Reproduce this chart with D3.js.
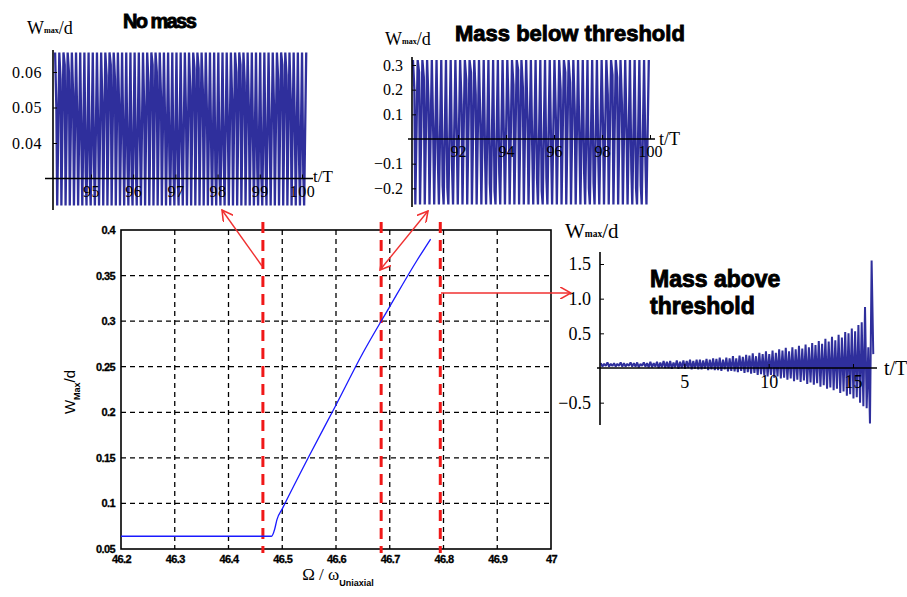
<!DOCTYPE html>
<html><head><meta charset="utf-8">
<script src="https://cdn.jsdelivr.net/npm/d3@7"></script>
<style>body{margin:0;background:#fff}svg{display:block}</style>
</head><body>
<svg id="c" width="907" height="597"></svg>
<script>
// ---------- DATA ----------
// main chart
const mainXTicks = [46.2,46.3,46.4,46.5,46.6,46.7,46.8,46.9,47];
const mainXTickLabels = ["46.2","46.3","46.4","46.5","46.6","46.7","46.8","46.9","47"];
const mainYTicks = [0.05,0.1,0.15,0.2,0.25,0.3,0.35,0.4];
const mainYTickLabels = ["0.05","0.1","0.15","0.2","0.25","0.3","0.35","0.4"];
const freqRatio = [46.2,46.48,46.486,46.49,46.5,46.55,46.6,46.65,46.7,46.75,46.776];
const wMax      = [0.064,0.064,0.072,0.082,0.094,0.152,0.208,0.265,0.316,0.366,0.39];
const markerFreqs = [46.464,46.684,46.794];

// inset 1: no mass
const noMassXTicks = [95,96,97,98,99,100];
const noMassYTicks = [0.04,0.05,0.06];
const noMassYTickLabels = ["0.04","0.05","0.06"];
const noMassRange = [94.15,100.1];
const noMassMax = 0.0655, noMassMin = 0.0224;
const noMassShoulder = [0.050,0.058,0.062,0.060,0.054,0.046,0.038,0.032,0.030,0.034,
 0.042,0.051,0.059,0.062,0.058,0.050,0.041,0.034,0.030,0.033,
 0.040,0.049,0.057,0.062,0.060,0.053,0.044,0.036,0.031,0.031,
 0.037,0.046,0.055,0.061,0.061,0.055,0.047,0.038,0.032,0.030,
 0.035,0.043,0.052,0.060,0.062,0.057,0.049,0.040,0.033,0.030,
 0.034,0.041,0.050,0.058,0.062,0.059,0.052,0.043,0.035,0.031];

// inset 2: mass below threshold
const belowXTicks = [92,94,96,98,100];
const belowYTicks = [-0.2,-0.1,0.1,0.2,0.3];
const belowYTickLabels = ["\u22120.2","\u22120.1","0.1","0.2","0.3"];
const belowRange = [90.12,99.95];
const belowMax = 0.32, belowMin = -0.265;
const belowShoulder = [0.2,0.27,0.25,0.15,0.02,-0.1,-0.19,-0.2,-0.12,0.0,
 0.14,0.24,0.27,0.18,0.05,-0.08,-0.18,-0.21,-0.14,-0.02,
 0.11,0.22,0.28,0.21,0.08,-0.05,-0.16,-0.21,-0.16,-0.05,
 0.08,0.2,0.27,0.23,0.11,-0.02,-0.14,-0.2,-0.18,-0.08,
 0.05,0.18,0.26,0.25,0.14,0.01,-0.12,-0.2,-0.19,-0.1];

// inset 3: mass above threshold
const aboveXTicks = [5,10,15];
const aboveYTicks = [-0.5,0.5,1.0,1.5];
const aboveYTickLabels = ["\u22120.5","0.5","1.0","1.5"];
const aboveTops = [0.07,0.06,0.08,0.06,0.07, 0.06,0.08,0.07,0.06,0.08, 0.07,0.08,0.06,0.08,0.07,
 0.09,0.07,0.09,0.08,0.1, 0.09,0.1,0.08,0.11,0.09, 0.11,0.1,0.12,0.1,0.12,
 0.12,0.11,0.13,0.12,0.14, 0.13,0.15,0.12,0.15,0.14, 0.17,0.14,0.18,0.16,0.19,
 0.18,0.21,0.17,0.22,0.2, 0.24,0.2,0.25,0.22,0.27, 0.25,0.29,0.24,0.3,0.27,
 0.32,0.28,0.34,0.3,0.36, 0.33,0.39,0.35,0.42,0.38, 0.45,0.4,0.48,0.44,0.52,
 0.5,0.57,0.53,0.62,0.66, 0.88,0.3,1.55];
const aboveBottoms = [0.02,0.03,0.02,0.03,0.02, 0.03,0.02,0.02,0.03,0.02, 0.02,0.01,0.03,0.02,0.01,
 0.01,0.02,0.0,0.01,0.0, 0.0,-0.01,0.01,-0.01,0.0, -0.01,0.0,-0.02,-0.01,-0.02,
 -0.02,-0.01,-0.03,-0.02,-0.03, -0.03,-0.04,-0.02,-0.05,-0.04, -0.05,-0.06,-0.04,-0.07,-0.06,
 -0.08,-0.07,-0.1,-0.09,-0.11, -0.12,-0.1,-0.14,-0.12,-0.15, -0.14,-0.17,-0.15,-0.19,-0.17,
 -0.2,-0.18,-0.23,-0.21,-0.24, -0.22,-0.27,-0.25,-0.3,-0.28, -0.32,-0.3,-0.36,-0.34,-0.4,
 -0.38,-0.44,-0.42,-0.5,-0.55, -0.58,-0.8,0.2];
const aboveRange = [0.05,16.3];

// ---------- DRAW ----------
const svg = d3.select("#c");
svg.append("rect").attr("width",907).attr("height",597).attr("fill","#fff");
const BLUE = "#2f2f9c";
const serif = "'Liberation Serif','Times New Roman',serif";
const sans = "'Liberation Sans',Arial,sans-serif";

// ---- main chart ----
const x = d3.scaleLinear().domain([46.2,47]).range([121,551]);
const y = d3.scaleLinear().domain([0.05,0.4]).range([549,230]);
const g = svg.append("g");
g.selectAll(".gx").data(mainXTicks.slice(1,-1)).join("line")
  .attr("x1",d=>x(d)).attr("x2",d=>x(d)).attr("y1",y(0.4)).attr("y2",y(0.05))
  .attr("stroke","#000").attr("stroke-width",1.3).attr("stroke-dasharray","5,4");
g.selectAll(".gy").data(mainYTicks.slice(1,-1)).join("line")
  .attr("y1",d=>y(d)).attr("y2",d=>y(d)).attr("x1",x(46.2)).attr("x2",x(47))
  .attr("stroke","#000").attr("stroke-width",1.3).attr("stroke-dasharray","5,4");
const xAx = g.append("g").attr("transform",`translate(0,${y(0.05)})`)
  .call(d3.axisBottom(x).tickValues(mainXTicks).tickFormat((d,i)=>mainXTickLabels[i]).tickSize(0).tickPadding(4));
const yAx = g.append("g").attr("transform",`translate(${x(46.2)},0)`)
  .call(d3.axisLeft(y).tickValues(mainYTicks).tickFormat((d,i)=>mainYTickLabels[i]).tickSize(0).tickPadding(6));
[xAx,yAx].forEach(a=>{a.select(".domain").remove();
  a.selectAll("text").attr("font-family",sans).attr("font-weight","bold").attr("font-size",11)
   .attr("letter-spacing","-0.6px").attr("fill","#000").attr("stroke","#000").attr("stroke-width",0.3);});
xAx.selectAll("text").attr("dy","0.9em");
g.append("rect").attr("x",x(46.2)).attr("y",y(0.4)).attr("width",x(47)-x(46.2)).attr("height",y(0.05)-y(0.4))
  .attr("fill","none").attr("stroke","#000").attr("stroke-width",1.6);
g.selectAll(".rm").data(markerFreqs).join("line")
  .attr("x1",d=>x(d)).attr("x2",d=>x(d)).attr("y1",222).attr("y2",553)
  .attr("stroke","#f01818").attr("stroke-width",3).attr("stroke-dasharray","11,7");
g.append("path").datum(freqRatio.map((f,i)=>[f,wMax[i]]))
  .attr("d",d3.line().curve(d3.curveMonotoneX).x(d=>x(d[0])).y(d=>y(d[1])))
  .attr("fill","none").attr("stroke","#1a1aff").attr("stroke-width",1.3);
const yl = g.append("text").attr("transform","translate(75,392) rotate(-90)")
  .attr("text-anchor","middle").attr("font-family",sans).attr("font-size",15).attr("fill","#000");
yl.append("tspan").text("W");
yl.append("tspan").attr("font-size",9).attr("font-weight","bold").attr("dy",5).text("Max");
yl.append("tspan").attr("dy",-5).text("/d");
const xl = g.append("text").attr("x",338).attr("y",580).attr("text-anchor","middle")
  .attr("font-family",serif).attr("font-size",17).attr("fill","#000");
xl.append("tspan").text("\u03A9 / \u03C9");
xl.append("tspan").attr("font-family",sans).attr("font-weight","bold").attr("font-size",9).attr("dy",6).text("Uniaxial");

// arrows
const defs = svg.append("defs");
defs.append("marker").attr("id","ah").attr("viewBox","0 0 10 10").attr("refX",9).attr("refY",5)
  .attr("markerWidth",12).attr("markerHeight",12).attr("markerUnits","userSpaceOnUse").attr("orient","auto-start-reverse")
  .append("path").attr("d","M0,0 L9,5 L0,10").attr("fill","none").attr("stroke","#f03030").attr("stroke-width",1.3);
const arrows = [
  {p:[[262,266],[222,210]], both:false},
  {p:[[380,270],[428,211]], both:true},
  {p:[[441,293],[571,293]], both:false}
];
arrows.forEach(a=>{
  const l = svg.append("line").attr("x1",a.p[0][0]).attr("y1",a.p[0][1]).attr("x2",a.p[1][0]).attr("y2",a.p[1][1])
   .attr("stroke","#f03030").attr("stroke-width",1.4).attr("marker-end","url(#ah)");
  if(a.both) l.attr("marker-start","url(#ah)");
});

function oscPoints(range, maxV, minV, shoulder){
  const n = shoulder.length, P = (range[1]-range[0])/n, pts=[];
  shoulder.forEach((s,i)=>{const t0=range[0]+i*P;
    pts.push([t0,maxV],[t0+0.3*P,s],[t0+0.5*P,minV]);});
  pts.push([range[1],maxV]);
  return pts;
}
function inset(o){
  const gi = svg.append("g");
  const sx = d3.scaleLinear().domain(o.xd).range(o.xr);
  const sy = d3.scaleLinear().domain(o.yd).range(o.yr);
  gi.append("path").datum(o.pts).attr("d",d3.line().x(d=>sx(d[0])).y(d=>sy(d[1])))
    .attr("fill","none").attr("stroke",BLUE).attr("stroke-width",o.sw).attr("stroke-linejoin","bevel");
  const ax = gi.append("g").attr("transform",`translate(0,${sy(o.axisY)})`)
    .call(d3.axisBottom(sx).tickValues(o.xt).tickFormat(d3.format("d")).tickSize(4).tickPadding(3));
  ax.select(".domain").attr("d",`M${o.xLine[0]},0H${o.xLine[1]}`).attr("stroke-width",1.6);
  ax.selectAll(".tick line").attr("y1",-4).attr("y2",0).attr("stroke-width",1);
  const ay = gi.append("g").attr("transform",`translate(${sx(o.axisX)},0)`)
    .call(d3.axisLeft(sy).tickValues(o.yt).tickFormat((d,i)=>o.ytl[i]).tickSize(4).tickPadding(o.yPad||5));
  ay.select(".domain").attr("d",`M0,${o.yLine[0]}V${o.yLine[1]}`).attr("stroke-width",1.6);
  ay.selectAll(".tick line").attr("x1",0).attr("x2",4);
  [ax,ay].forEach(a=>a.selectAll("text").attr("font-family",serif).attr("font-size",o.fs).attr("fill","#000").attr("letter-spacing",o.ls||"0px"));
  gi.append("text").attr("x",o.tT[0]).attr("y",o.tT[1]).attr("font-family",serif).attr("font-size",o.tfsT).text("t/T");
  const wl = gi.append("text").attr("x",o.wl[0]).attr("y",o.wl[1]).attr("font-family",serif).attr("font-size",o.wfs);
  wl.append("tspan").text("W");
  wl.append("tspan").attr("font-size",o.wfs*0.45).attr("font-weight","bold").attr("dy",-1).text("max");
  wl.append("tspan").attr("dy",1).text("/d");
  o.titles.forEach(tt=>gi.append("text").attr("x",tt[0]).attr("y",tt[1]).attr("font-family",sans)
     .attr("font-weight","900").attr("font-size",o.tfs).attr("letter-spacing",o.tls)
     .attr("stroke","#000").attr("stroke-width",0.9).text(tt[2]));
  return gi;
}

inset({xd:[94.1,100],xr:[53,302],yd:[0.03,0.06],yr:[178.5,72],
  pts:oscPoints(noMassRange,noMassMax,noMassMin,noMassShoulder),
  axisY:0.03, axisX:94.1, xt:noMassXTicks, yt:noMassYTicks, ytl:noMassYTickLabels,
  xLine:[45,313], yLine:[50,210], fs:16, ls:"0.5px", yPad:7, tT:[313,182], tfsT:17, wl:[27,34], wfs:18,
  titles:[[123,28,"No mass"]], tfs:20, tls:"-1.6px", sw:2.3});

inset({xd:[90.08,100],xr:[412,650],yd:[0,0.3],yr:[139,65],
  pts:oscPoints(belowRange,belowMax,belowMin,belowShoulder),
  axisY:0, axisX:90.08, xt:belowXTicks, yt:belowYTicks, ytl:belowYTickLabels,
  xLine:[408,655], yLine:[57,207], fs:16, tT:[659,145], tfsT:18, wl:[385,45], wfs:18,
  titles:[[455,41,"Mass below threshold"]], tfs:22, tls:"0px", sw:2.3});

const aboveN = aboveTops.length, aboveP = (aboveRange[1]-aboveRange[0])/aboveN;
const abovePts = [];
aboveTops.forEach((tp,i)=>{const t0=aboveRange[0]+i*aboveP;
  abovePts.push([t0,tp],[t0+0.5*aboveP,aboveBottoms[i]]);});
inset({xd:[0,15],xr:[600,853],yd:[0,1.5],yr:[368,264],
  pts:abovePts, axisY:0, axisX:0, xt:aboveXTicks, yt:aboveYTicks, ytl:aboveYTickLabels,
  xLine:[597,877], yLine:[252,425], fs:18, tT:[884,375], tfsT:20, wl:[565,238], wfs:21,
  titles:[[650,287,"Mass above"],[650,314,"threshold"]], tfs:23, tls:"0px", sw:2});
</script>
</body></html>
